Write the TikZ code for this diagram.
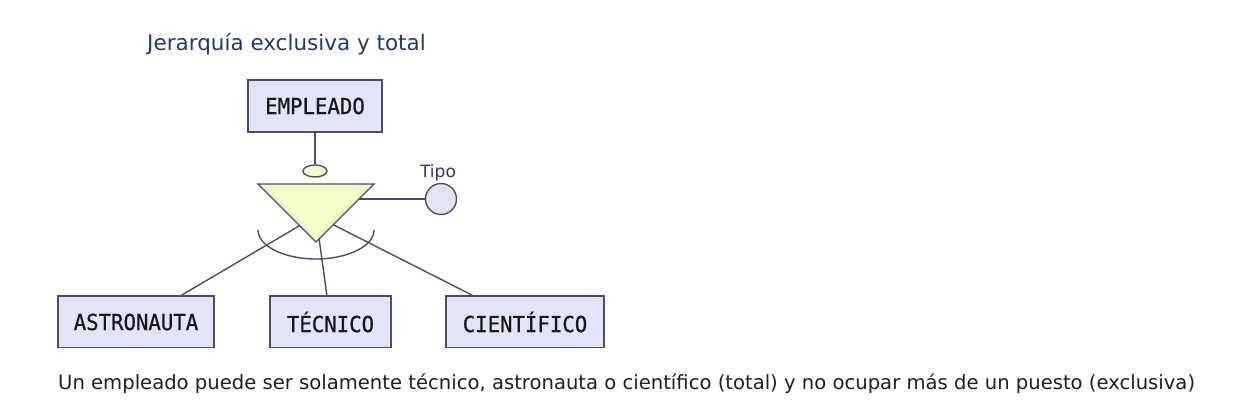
\documentclass[tikz,border=0pt]{standalone}
\usepackage{fontspec}
\setmainfont{DejaVu Sans}
\setmonofont{DejaVu Sans Mono}
\newfontfamily\entfont[FakeStretch=0.94, FakeBold=0.8]{DejaVu Sans Mono}
\usetikzlibrary{positioning,shapes.geometric}
\definecolor{entfill}{HTML}{E4E4F8}
\definecolor{edgecol}{HTML}{4C4C6C}
\definecolor{isafill}{HTML}{F2FDC8}
\definecolor{titleblue}{HTML}{1E3C6E}
\definecolor{attrblue}{HTML}{2E3A6A}

\begin{document}
\begin{tikzpicture}[x=1pt, y=-1pt,
  ent/.style={draw=edgecol, fill=entfill, line width=1.4pt, inner sep=0pt,
    minimum height=52pt, font=\entfont\fontsize{22}{26}\selectfont, text=black!90},
  link/.style={draw=edgecol, line width=1.4pt},
  isa/.style={draw=edgecol, fill=isafill, line width=1.4pt},
  disc/.style={draw=edgecol, fill=isafill, line width=1.4pt, ellipse,
    inner sep=0pt, minimum width=24pt, minimum height=12pt},
  attr/.style={draw=edgecol, fill=entfill, line width=1.4pt, circle,
    inner sep=0pt, minimum size=31pt},
  txt/.style={inner sep=0pt, anchor=base west}
]
\useasboundingbox (0,0) rectangle (1251,407);
\node[txt, text=titleblue, font=\fontsize{21.5}{25}\selectfont] (title) at (147,50)
  {Jerarquía exclusiva y total};
\node[ent, minimum width=134pt] (emp) at (315,106) {EMPLEADO};
\begin{scope}
  \clip (0,0) rectangle (1251,347);
  \node[ent, minimum width=156pt] (astro) at (136,322) {ASTRONAUTA};
  \node[ent, minimum width=121pt] (tec) at (330.5,322) {TÉCNICO};
  \node[ent, minimum width=158pt] (cien) at (525,322) {CIENTÍFICO};
\end{scope}
\coordinate (hub) at (316,216);
\coordinate (isa) at (316,199);
\coordinate (arcc) at (316,230);
\node[disc] (dsc) at (315,171) {};
\node[attr] (tipo) at (441,199) {};
\node[inner sep=0pt, text=attrblue, font=\fontsize{17}{20}\selectfont] (tipolbl) at (438,173) {Tipo};
\draw[link] (emp) -- (dsc);
\draw[link] (hub) -- (astro);
\draw[link] (hub) -- (tec);
\draw[link] (hub) -- (cien);
\draw[link] (isa) -- (tipo);
\draw[isa] (258,184) -- (374,184) -- (316,242) -- cycle;
\draw[link] ([xshift=-58pt]arcc) arc[start angle=180, end angle=360, x radius=58pt, y radius=29pt];
\node[txt, text=black!88, font=\fontsize{19.6}{23}\selectfont] (caption) at (58,389)
  {Un empleado puede ser solamente técnico, astronauta o científico (total) y no ocupar más de un puesto (exclusiva)};
\end{tikzpicture}
\end{document}
